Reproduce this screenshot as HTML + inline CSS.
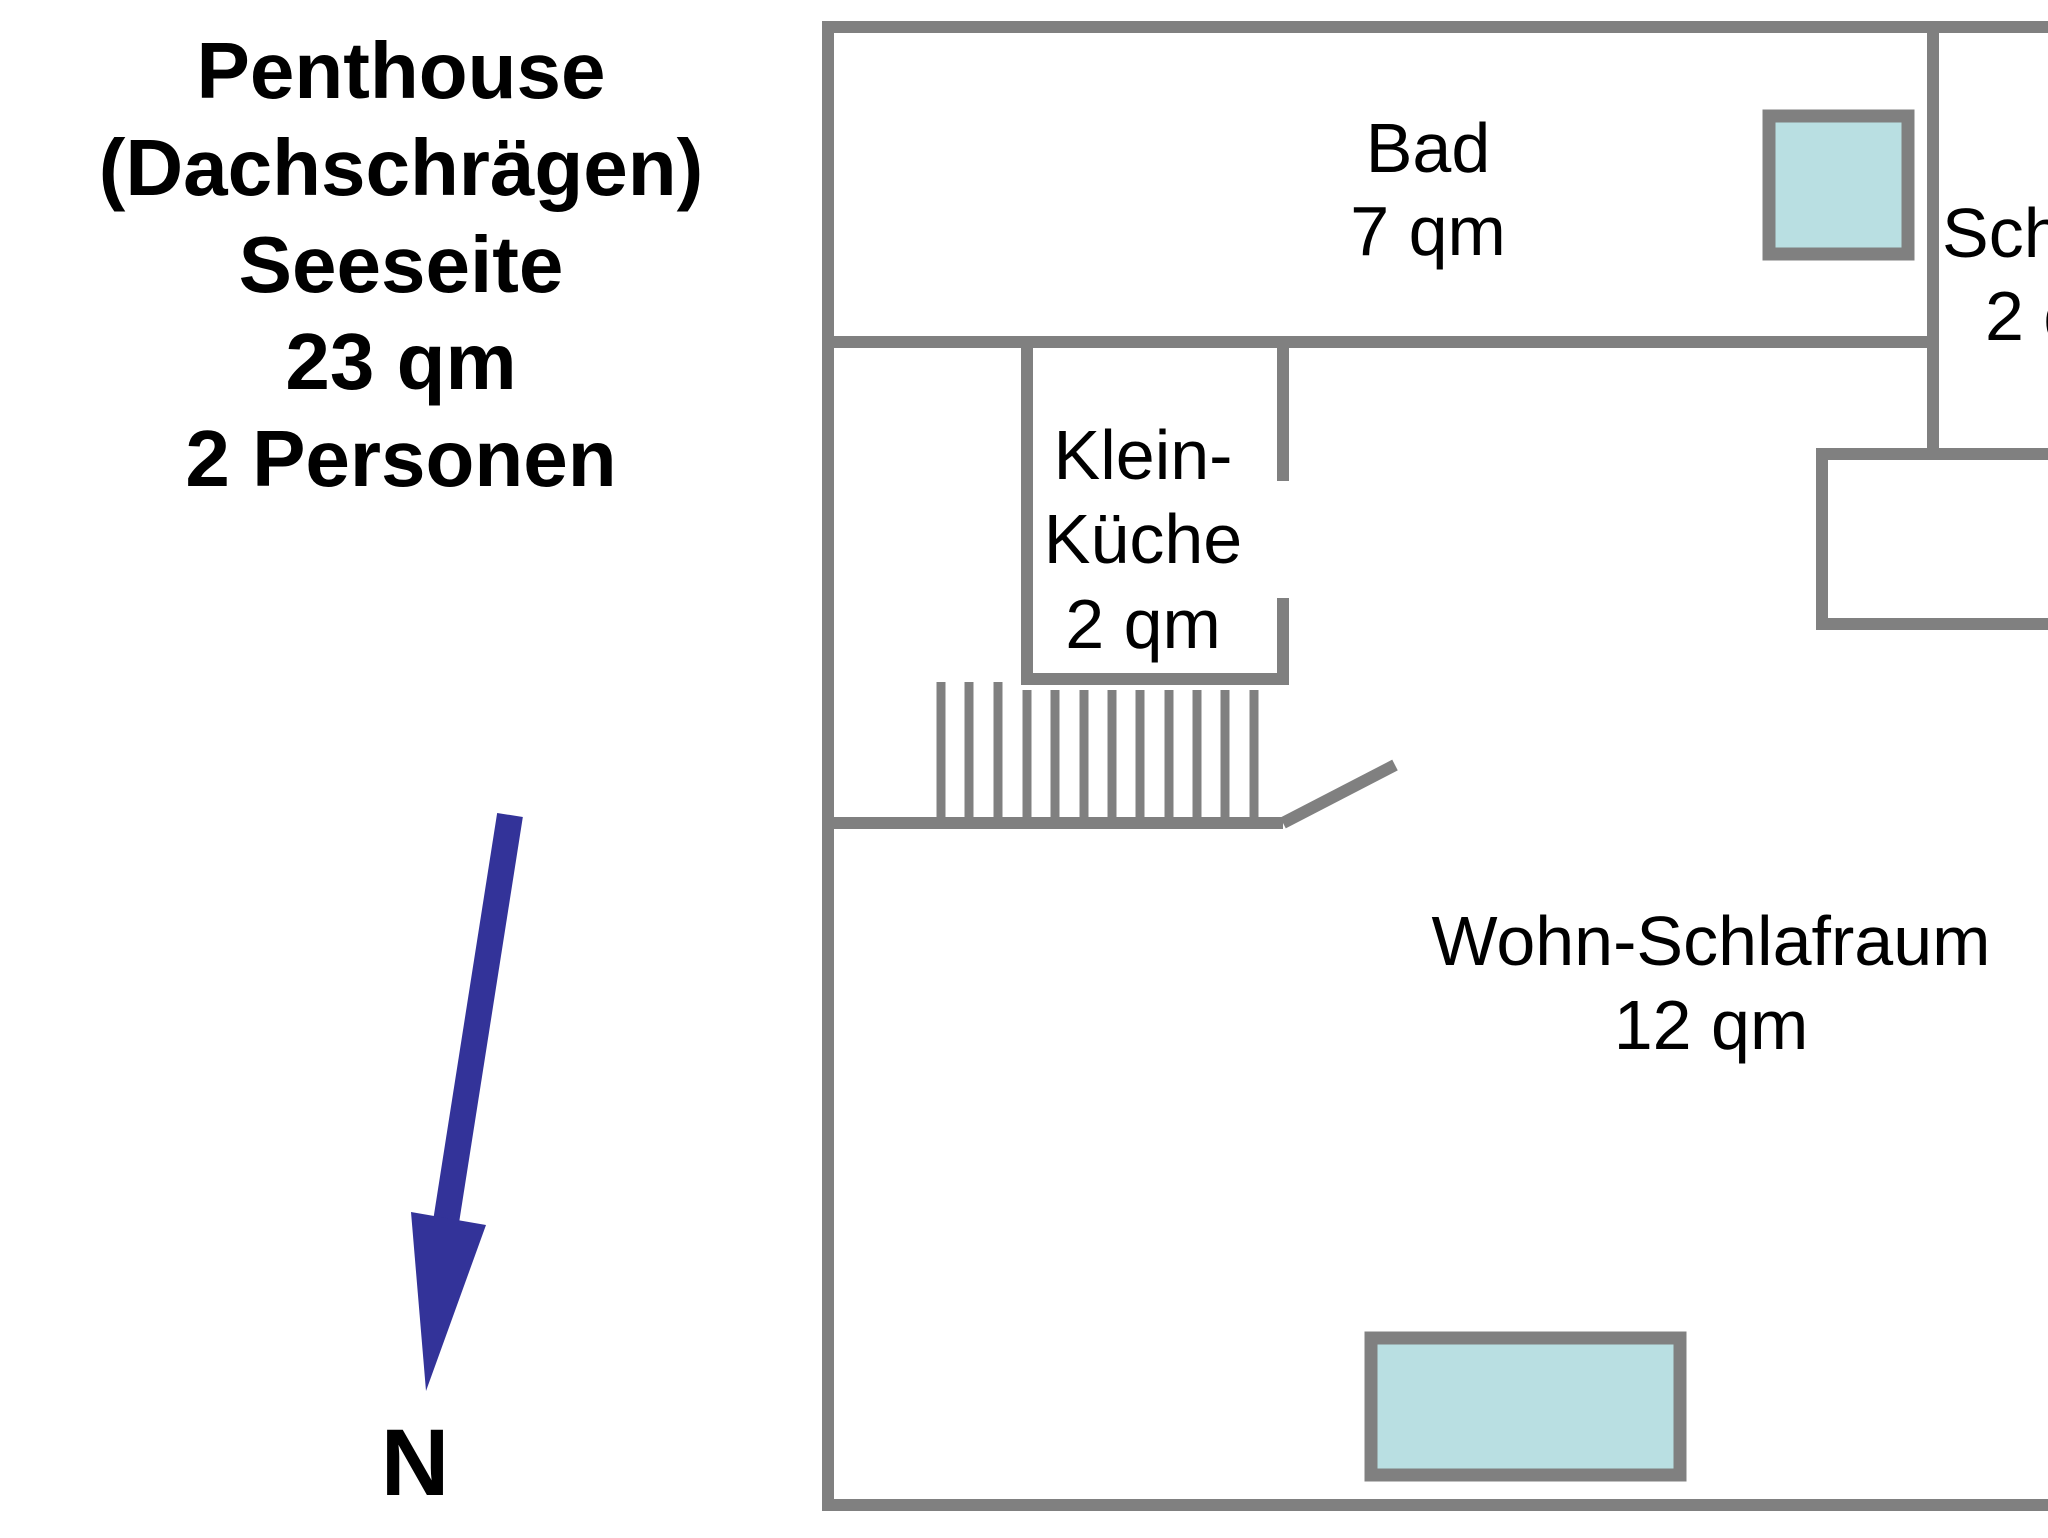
<!DOCTYPE html>
<html><head><meta charset="utf-8"><style>html,body{margin:0;padding:0;background:#fff}svg{display:block}</style></head>
<body>
<svg width="2048" height="1538" viewBox="0 0 2048 1538" xmlns="http://www.w3.org/2000/svg">
<g stroke="#808080" stroke-width="12" fill="none">
<line x1="822" y1="27" x2="2048" y2="27"/>
<line x1="828" y1="21" x2="828" y2="1511"/>
<line x1="822" y1="1505" x2="2048" y2="1505"/>
<line x1="828" y1="342" x2="1939" y2="342"/>
<line x1="1933" y1="27" x2="1933" y2="454"/>
<line x1="1027" y1="342" x2="1027" y2="683"/>
<line x1="1283" y1="342" x2="1283" y2="481"/>
<line x1="1283" y1="598" x2="1283" y2="685"/>
<line x1="1021" y1="679" x2="1289" y2="679"/>
<line x1="828" y1="823" x2="1283" y2="823"/>
<line x1="1283" y1="823" x2="1395" y2="765" stroke-width="12"/>
<polyline points="2048,454 1822,454 1822,624 2048,624"/>
</g>
<g stroke="#808080" stroke-width="9">
<line x1="941" y1="682" x2="941" y2="820"/>
<line x1="969" y1="682" x2="969" y2="820"/>
<line x1="998" y1="682" x2="998" y2="820"/>
<line x1="1027" y1="690" x2="1027" y2="820"/>
<line x1="1055" y1="690" x2="1055" y2="820"/>
<line x1="1084" y1="690" x2="1084" y2="820"/>
<line x1="1112" y1="690" x2="1112" y2="820"/>
<line x1="1140" y1="690" x2="1140" y2="820"/>
<line x1="1169" y1="690" x2="1169" y2="820"/>
<line x1="1197" y1="690" x2="1197" y2="820"/>
<line x1="1225" y1="690" x2="1225" y2="820"/>
<line x1="1254" y1="690" x2="1254" y2="820"/>
</g>
<rect x="1769" y="116" width="139" height="138" fill="#b9dfe2" stroke="#808080" stroke-width="13"/>
<rect x="1371" y="1338" width="309" height="137" fill="#b9dfe2" stroke="#808080" stroke-width="13"/>
<g font-family="Liberation Sans, Arial, sans-serif" font-size="70" fill="#000" text-anchor="middle">
<text x="1428" y="172">Bad</text>
<text x="1428" y="255">7 qm</text>
<text x="1143" y="479">Klein-</text>
<text x="1143" y="563">Küche</text>
<text x="1143" y="648">2 qm</text>
<text x="1711" y="965">Wohn-Schlafraum</text>
<text x="1711" y="1049">12 qm</text>
<text x="1942" y="257" text-anchor="start">Schrank</text>
<text x="1985" y="340" text-anchor="start">2 qm</text>
</g>
<g font-family="Liberation Sans, Arial, sans-serif" font-weight="bold" font-size="80" fill="#000" text-anchor="middle">
<text x="401" y="98">Penthouse</text>
<text x="401" y="195">(Dachschrägen)</text>
<text x="401" y="292">Seeseite</text>
<text x="401" y="389">23 qm</text>
<text x="401" y="486">2 Personen</text>
<text x="415" y="1495" font-size="95">N</text>
</g>
<line x1="510" y1="815" x2="446" y2="1222" stroke="#333399" stroke-width="26"/>
<polygon points="411,1212 486,1225 426,1391" fill="#333399"/>
</svg>
</body></html>
